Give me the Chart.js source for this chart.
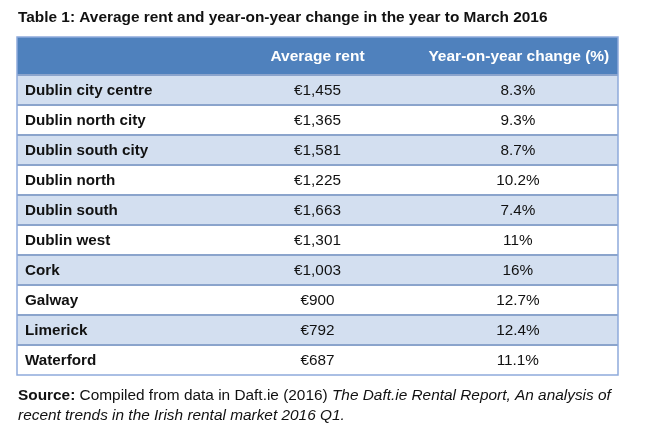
<!DOCTYPE html>
<html lang="en">
<head>
    <meta charset="UTF-8">
    <title>Average rent table</title>
    <script src="https://cdn.jsdelivr.net/npm/chart.js"></script>
    <style>
        body { margin: 0; background: #ffffff; }
        #tabela { width: 650px; height: 427px; }
    </style>
</head>
<body>
    <div id="tabela">
        <canvas id="myChartCanvas" width="650" height="427"></canvas>
    </div>

<script>
    // dados da tabela
    const regioes = ['Dublin city centre', 'Dublin north city', 'Dublin south city', 'Dublin north',
        'Dublin south', 'Dublin west', 'Cork', 'Galway', 'Limerick', 'Waterford'];
    const rendaMedia = ['€1,455', '€1,365', '€1,581', '€1,225', '€1,663', '€1,301', '€1,003', '€900', '€792', '€687'];
    const variacao = ['8.3%', '9.3%', '8.7%', '10.2%', '7.4%', '11%', '16%', '12.7%', '12.4%', '11.1%'];
    const cabecalho = ['', 'Average rent', 'Year-on-year change (%)'];

    const titulo = 'Table 1: Average rent and year-on-year change in the year to March 2016';

    const fonte = '"Liberation Sans", Arial, sans-serif';

    // linhas zebradas: barras flutuantes de 0 a 3 (colunas)
    const faixas = regioes.map(function (r, i) { return i % 2 == 0 ? [0, 3] : null; });

    const pluginTabela = {
        id: 'tabela',
        beforeDatasetsDraw(chart) {
            const ctx = chart.ctx;
            const area = chart.chartArea;
            const x = chart.scales.x;
            ctx.save();
            // cabecalho
            ctx.fillStyle = '#4f81bd';
            ctx.fillRect(area.left, 37, area.right - area.left, area.top - 37);
            ctx.fillStyle = '#ffffff';
            ctx.font = 'bold 15.5px ' + fonte;
            ctx.textAlign = 'center';
            ctx.textBaseline = 'middle';
            ctx.fillText(cabecalho[1], x.getPixelForValue(1.5), 57);
            ctx.fillText(cabecalho[2], x.getPixelForValue(2.5) + 1, 57);
            ctx.restore();
        },
        afterDatasetsDraw(chart) {
            const ctx = chart.ctx;
            const area = chart.chartArea;
            const x = chart.scales.x;
            const y = chart.scales.y;
            ctx.save();

            // linhas entre as linhas da tabela
            ctx.strokeStyle = '#8ba4cc';
            ctx.lineWidth = 2;
            for (let i = 0; i < regioes.length; i++) {
                const topo = y.getPixelForValue(i) - (y.getPixelForValue(1) - y.getPixelForValue(0)) / 2;
                ctx.beginPath();
                ctx.moveTo(area.left, topo);
                ctx.lineTo(area.right, topo);
                ctx.stroke();
            }
            // borda
            ctx.strokeStyle = '#8eaadb';
            ctx.lineWidth = 1.5;
            ctx.strokeRect(area.left, 37, area.right - area.left, area.bottom - 37);

            // textos das celulas
            ctx.fillStyle = '#111111';
            ctx.textBaseline = 'middle';
            for (let i = 0; i < regioes.length; i++) {
                const py = y.getPixelForValue(i) + 1;
                ctx.font = 'bold 15.2px ' + fonte;
                ctx.textAlign = 'left';
                ctx.fillText(regioes[i], x.getPixelForValue(0) + 8, py);
                ctx.font = '15.3px ' + fonte;
                ctx.textAlign = 'center';
                ctx.fillText(rendaMedia[i], x.getPixelForValue(1.5), py);
                ctx.fillText(variacao[i], x.getPixelForValue(2.5), py);
            }

            // titulo
            ctx.textAlign = 'left';
            ctx.font = 'bold 15.4px ' + fonte;
            ctx.fillText(titulo, 18, 18);

            // fonte dos dados
            let px = 18;
            const linha1 = 396;
            ctx.font = 'bold 15.4px ' + fonte;
            ctx.fillText('Source:', px, linha1);
            px += ctx.measureText('Source: ').width;
            ctx.font = '15.4px ' + fonte;
            const parte = 'Compiled from data in Daft.ie (2016) ';
            ctx.fillText(parte, px, linha1);
            px += ctx.measureText(parte).width;
            ctx.font = 'italic 15.4px ' + fonte;
            ctx.fillText('The Daft.ie Rental Report, An analysis of', px, linha1);
            ctx.fillText('recent trends in the Irish rental market 2016 Q1.', 18, 416);

            ctx.restore();
        }
    };

    const dados = {
        labels: regioes,
        datasets: [{
            label: 'faixas',
            data: faixas,
            backgroundColor: '#d3dff0',
            borderWidth: 0,
            barPercentage: 1,
            categoryPercentage: 1
        }]
    };

    const config = {
        type: 'bar',
        data: dados,
        options: {
            indexAxis: 'y',
            responsive: false,
            devicePixelRatio: 1,
            animation: false,
            layout: {
                padding: { left: 17, right: 32, top: 75, bottom: 52 }
            },
            scales: {
                x: { type: 'linear', min: 0, max: 3, display: false },
                y: { type: 'category', display: false }
            },
            plugins: {
                legend: { display: false },
                tooltip: { enabled: false }
            }
        },
        plugins: [pluginTabela]
    };

    let myChart = new Chart(document.getElementById('myChartCanvas'), config);
</script>
</body>
</html>
